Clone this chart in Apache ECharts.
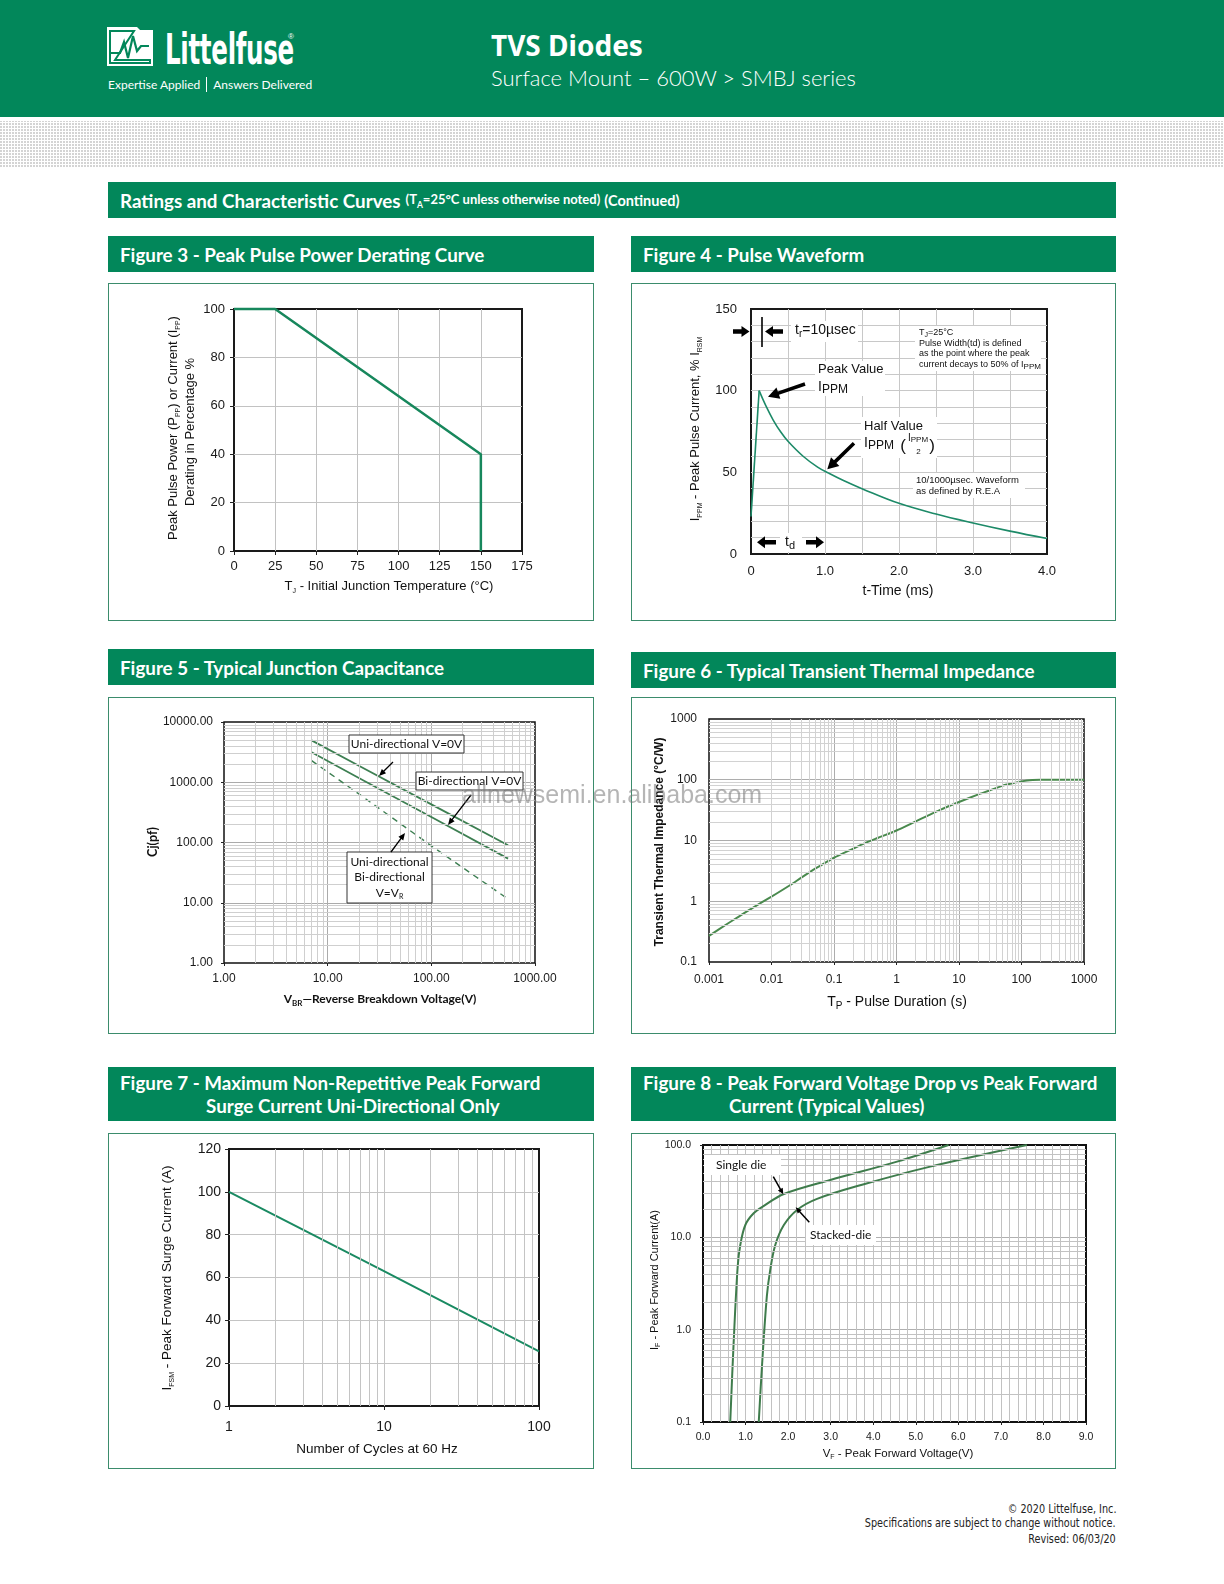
<!DOCTYPE html>
<html lang="en">
<head>
<meta charset="utf-8">
<title>TVS Diodes - SMBJ series - Ratings and Characteristic Curves</title>
<script src="https://cdn.jsdelivr.net/npm/echarts@6.0.0/dist/echarts.min.js"></script>
<style>
  html, body { margin: 0; padding: 0; background: #fff; }
  #page { position: relative; width: 1224px; height: 1584px; overflow: hidden; background: #fff;
          font-family: Lato, "Noto Sans", sans-serif; }
  .abs { position: absolute; white-space: nowrap; }
  #header { left: 0; top: 0; width: 1224px; height: 117px; background: #02875a; }
  #dots { left: 0; top: 121px; width: 1224px; height: 47px;
          background-image: repeating-linear-gradient(0deg, #fff 0 1px, transparent 1px 3px),
                            repeating-linear-gradient(90deg, #d4d4d4 0 2px, #fff 2px 3px); }
  .word { left: 165px; top: 28px; color: #fff; font: 700 43px/43px "Liberation Sans Narrow", "DejaVu Sans Condensed", sans-serif;
          transform: scaleX(0.635); transform-origin: 0 0; letter-spacing: -0.5px; }
  .reg { left: 288px; top: 33px; color: #fff; font: 8px/8px "Liberation Sans", sans-serif; }
  .tag { left: 108px; top: 77px; color: #fff; font: 400 12px/16px Lato, sans-serif; }
  .tag span { display: inline-block; width: 1px; height: 15px; background: #fff; margin: 0 6px; vertical-align: -3px; }
  .h1 { left: 491px; top: 31px; color: #fff; font: 700 28px/28px "Noto Sans", sans-serif; }
  .h2 { left: 491px; top: 66px; color: #fff; font: 300 22px/23px Lato, sans-serif; }
  .bar { position: absolute; background: #02875a; color: #fff; font-weight: 700; font-size: 18.8px;
         box-sizing: border-box; padding-left: 12px; display: flex; align-items: center; white-space: nowrap; }
  .bar small { font-size: 13px; margin-left: 5px; }
  .bar small sub { font-size: 8.5px; }
  .bar .cont { font-size: 14.5px; margin-left: 4px; }
  .bar2 { position: absolute; background: #02875a; color: #fff; font-weight: 700; font-size: 18.8px; }
  .bar2 div { position: absolute; line-height: 20px; white-space: nowrap; }
  .panel { position: absolute; box-sizing: border-box; border: 1px solid #3b8c6c; }
  .chart { position: absolute; }
  .wm { left: 462px; top: 779px; font: 25px/30px "Liberation Sans", Arial, sans-serif; color: rgba(120,120,120,0.55); z-index: 5; }
  .foot { right: 108px; color: #222; font: 12.5px/15px "Liberation Sans Narrow", "DejaVu Sans Condensed", sans-serif; text-align: right;
          transform: scaleX(0.86); transform-origin: 100% 0; }
</style>
</head>
<body>
<div id="page">
  <div id="header" class="abs"></div>
  <svg class="abs" style="left:107px;top:27px" width="46" height="39" viewBox="0 0 46 39">
    <rect x="0" y="0" width="46" height="39" fill="#fff"/>
    <path d="M30 0 L46 0 L46 3 L33 3 Z" fill="#02875a"/>
    <path d="M3 36 L3 4 L27 4 L8 33 L43 33 L43 36 Z" fill="none" stroke="#02875a" stroke-width="2"/>
    <polyline points="4,26 13,26 17,15 21,31 26,9 30,24 34,19 42,19" fill="none" stroke="#02875a" stroke-width="2.2"/>
  </svg>
  <div class="abs word">Littelfuse</div>
  <div class="abs reg">®</div>
  <div class="abs tag">Expertise Applied<span></span>Answers Delivered</div>
  <div class="abs h1">TVS Diodes</div>
  <div class="abs h2">Surface Mount – 600W &gt; SMBJ series</div>
  <div id="dots" class="abs"></div>

  <div class="bar" style="left:108px;top:182px;width:1008px;height:36px;">Ratings and Characteristic Curves<small>(T<sub>A</sub>=25°C unless otherwise noted)</small><span class="cont">(Continued)</span></div>

  <div class="bar" style="left:108px;top:236px;width:486px;height:36px;">Figure 3 - Peak Pulse Power Derating Curve</div>
  <div class="bar" style="left:631px;top:236px;width:485px;height:36px;">Figure 4 - Pulse Waveform</div>
  <div class="bar" style="left:108px;top:649px;width:486px;height:36px;">Figure 5 - Typical Junction Capacitance</div>
  <div class="bar" style="left:631px;top:652px;width:485px;height:36px;">Figure 6 - Typical Transient Thermal Impedance</div>
  <div class="bar2" style="left:108px;top:1067px;width:486px;height:54px;">
    <div style="left:12px;top:6px;">Figure 7 - Maximum Non-Repetitive Peak Forward</div>
    <div style="left:98px;top:29px;">Surge Current Uni-Directional Only</div>
  </div>
  <div class="bar2" style="left:631px;top:1067px;width:485px;height:54px;">
    <div style="left:12px;top:6px;">Figure 8 - Peak Forward Voltage Drop vs Peak Forward</div>
    <div style="left:98px;top:29px;">Current (Typical Values)</div>
  </div>

  <div class="panel" style="left:108px;top:283px;width:486px;height:338px;"></div>
  <div class="panel" style="left:631px;top:283px;width:485px;height:338px;"></div>
  <div class="panel" style="left:108px;top:697px;width:486px;height:337px;"></div>
  <div class="panel" style="left:631px;top:697px;width:485px;height:337px;"></div>
  <div class="panel" style="left:108px;top:1133px;width:486px;height:336px;"></div>
  <div class="panel" style="left:631px;top:1133px;width:485px;height:336px;"></div>

  <div id="fig3" class="chart" style="left:108px;top:283px;width:486px;height:338px;"></div>
  <div id="fig4" class="chart" style="left:631px;top:283px;width:485px;height:338px;"></div>
  <div id="fig5" class="chart" style="left:108px;top:697px;width:486px;height:337px;"></div>
  <div id="fig6" class="chart" style="left:631px;top:697px;width:485px;height:337px;"></div>
  <div id="fig7" class="chart" style="left:108px;top:1133px;width:486px;height:336px;"></div>
  <div id="fig8" class="chart" style="left:631px;top:1133px;width:485px;height:336px;"></div>

  <div class="abs wm">allnewsemi.en.alibaba.com</div>

  <div class="abs foot" style="top:1501px;">© 2020 Littelfuse, Inc.</div>
  <div class="abs foot" style="top:1515px;">Specifications are subject to change without notice.</div>
  <div class="abs foot" style="top:1531px;">Revised: 06/03/20</div>
</div>

<script>
// ---- data ----
// Figure 3: derating vs junction temperature
const derateTempC = [0, 25, 150, 150];
const deratePct = [100, 100, 40, 0];

// Figure 4: 10/1000us pulse waveform
const pulseRiseMs = [0, 0.11];
const pulseRisePct = [23, 100];
const pulseDecayMs = [0.11, 0.2, 0.3, 0.4, 0.5, 0.7, 0.9, 1.05, 1.25, 1.5, 2.0, 2.5, 3.0, 3.5, 4.0];
const pulseDecayPct = [100, 90.8, 82, 74.8, 69, 60, 53.2, 49.5, 45, 40, 31, 24.5, 19, 14, 9.5];

// Figure 5: junction capacitance vs breakdown voltage
const capVbr = [7, 20, 100, 550];
const capUni0V = [4950, 1880, 430, 90];
const capBi0V = [3150, 1180, 265, 54];
const capAtVr = [2280, 640, 88, 11.5];

// Figure 6: transient thermal impedance
const thermTp = [0.001, 0.002, 0.003, 0.005, 0.01, 0.02, 0.03, 0.05, 0.07, 0.1, 0.2, 0.3, 0.5, 1, 2, 3, 5, 10, 20, 30, 50, 70, 100, 150, 200, 1000];
const thermZth = [0.27, 0.43, 0.56, 0.78, 1.19, 1.85, 2.45, 3.45, 4.2, 5.2, 7.3, 8.9, 11, 14.6, 20.5, 25, 32, 43, 57, 66, 80, 87, 94, 99, 100, 100];

// Figure 7: surge current vs cycles
const surgeCycles = [1, 10, 100];
const surgeAmps = [100, 63, 25.5];

// Figure 8: forward voltage vs forward current
const vfSingleV = [0.64, 0.72, 0.815, 0.877, 0.995, 1.19, 1.43, 1.9, 2.99, 4.56, 5.77];
const vfSingleA = [0.1, 0.72, 4.83, 8.3, 13.6, 18.2, 21.9, 29.5, 41.8, 66, 100];
const vfStackV = [1.31, 1.39, 1.5, 1.58, 1.7, 1.9, 2.21, 2.68, 3.78, 5.34, 7.61];
const vfStackA = [0.1, 0.43, 2.29, 4.45, 8.3, 13.6, 19.8, 26.1, 37.6, 58.3, 100];

// minor grid multipliers for the log axes
const logSteps = [2, 3, 4, 5, 6, 7, 8, 9];

// ---- helpers ----
const ARIAL = '"Liberation Sans", Arial, Helvetica, sans-serif';
const CAL = 'Lato, "Open Sans", sans-serif';

function pairs(xs, ys) { return xs.map((x, i) => [x, ys[i]]); }
function minors(decades) {
  const out = [];
  decades.forEach(d => logSteps.forEach(m => out.push(+(d * m).toPrecision(6))));
  return out;
}
function sub(size, fam, weight) {
  return { fontSize: size, fontFamily: fam || ARIAL, fontWeight: weight || 'normal', fill: '#111', verticalAlign: 'bottom', lineHeight: size };
}
// minor grid lines go through the axes via markLine
function minorSeries(xVals, yVals, color) {
  return {
    type: 'line', data: [], z: 1, silent: true, animation: false,
    markLine: {
      silent: true, animation: false, symbol: ['none', 'none'], label: { show: false },
      lineStyle: { color: color, width: 1, type: 'solid' }, emphasis: { disabled: true },
      data: xVals.map(v => ({ xAxis: v })).concat(yVals.map(v => ({ yAxis: v })))
    }
  };
}
// page-coordinate annotation kit for one panel
function kit(ox, oy) {
  return {
    text(x, y, text, st, rot) {
      return {
        type: 'text', x: x - ox, y: y - oy, z: 20, silent: true, rotation: rot || 0,
        style: Object.assign({ text: text, fill: '#111', fontFamily: ARIAL, fontSize: 13,
          align: 'center', verticalAlign: 'middle', textAlign: 'center', textVerticalAlign: 'middle' }, st)
      };
    },
    box(x1, y1, x2, y2, stroke) {
      const style = { fill: '#fff' };
      if (stroke) { style.stroke = stroke; style.lineWidth = 1; }
      return { type: 'rect', z: 15, silent: true, shape: { x: x1 - ox, y: y1 - oy, width: x2 - x1, height: y2 - y1 }, style: style };
    },
    arrow(x1, y1, x2, y2, hl, hw, sw) {
      const dx = x2 - x1, dy = y2 - y1, L = Math.hypot(dx, dy);
      const ux = dx / L, uy = dy / L, px = -uy, py = ux;
      const bx = x2 - ux * hl, by = y2 - uy * hl;
      const pts = [
        [x1 + px * sw / 2, y1 + py * sw / 2], [bx + px * sw / 2, by + py * sw / 2], [bx + px * hw / 2, by + py * hw / 2],
        [x2, y2],
        [bx - px * hw / 2, by - py * hw / 2], [bx - px * sw / 2, by - py * sw / 2], [x1 - px * sw / 2, y1 - py * sw / 2]
      ].map(p => [p[0] - ox, p[1] - oy]);
      return { type: 'polygon', z: 20, silent: true, shape: { points: pts }, style: { fill: '#000' } };
    },
    line(x1, y1, x2, y2, w) {
      return { type: 'line', z: 20, silent: true, shape: { x1: x1 - ox, y1: y1 - oy, x2: x2 - ox, y2: y2 - oy }, style: { stroke: '#000', lineWidth: w } };
    }
  };
}
function mk(id, opt) {
  const c = echarts.init(document.getElementById(id));
  c.setOption(opt);
  return c;
}
const UP = Math.PI / 2;

// ---- Figure 3 ----
(function () {
  const k = kit(108, 283);
  const grid = '#c2c2c2';
  mk('fig3', {
    animation: false,
    grid: { left: 126, top: 26, width: 288, height: 242, show: true, borderColor: '#1a1a1a', borderWidth: 2, outerBoundsMode: 'none' },
    xAxis: {
      type: 'value', min: 0, max: 175, interval: 25,
      axisLine: { show: false },
      axisTick: { show: true, length: 4, lineStyle: { color: '#222' } },
      axisLabel: { color: '#1a1a1a', fontFamily: ARIAL, fontSize: 13, margin: 9 },
      splitLine: { show: true, showMinLine: false, showMaxLine: false, lineStyle: { color: grid } }
    },
    yAxis: {
      type: 'value', min: 0, max: 100, interval: 20,
      axisLine: { show: false },
      axisTick: { show: true, length: 4, lineStyle: { color: '#222' } },
      axisLabel: { color: '#1a1a1a', fontFamily: ARIAL, fontSize: 13, margin: 9 },
      splitLine: { show: true, showMinLine: false, showMaxLine: false, lineStyle: { color: grid } }
    },
    series: [{
      type: 'line', data: pairs(derateTempC, deratePct), symbol: 'none', clip: false, z: 3,
      lineStyle: { color: '#17875c', width: 2.5 }
    }],
    graphic: [
      k.text(173, 428, 'Peak Pulse Power (P{s|PP}) or Current (I{s|PP})', { fontSize: 13, lineHeight: 17, rich: { s: sub(7) } }, UP),
      k.text(190, 432, 'Derating in Percentage %', { fontSize: 13 }, UP),
      k.text(389, 586, 'T{s|J} - Initial Junction Temperature (°C)', { fontSize: 13, lineHeight: 17, rich: { s: sub(7) } })
    ]
  });
})();

// ---- Figure 4 ----
(function () {
  const k = kit(631, 283);
  const grid = '#c8c8c8';
  mk('fig4', {
    animation: false,
    grid: { left: 120, top: 26, width: 296, height: 245, show: true, borderColor: '#1a1a1a', borderWidth: 2, outerBoundsMode: 'none' },
    xAxis: {
      type: 'value', min: 0, max: 4, interval: 0.5,
      axisLine: { show: false }, axisTick: { show: false },
      axisLabel: { color: '#1a1a1a', fontFamily: ARIAL, fontSize: 13, margin: 11,
        formatter: v => v === 0 ? '0' : (Number.isInteger(v) ? v.toFixed(1) : '') },
      splitLine: { show: true, showMinLine: false, showMaxLine: false, lineStyle: { color: grid } }
    },
    yAxis: {
      type: 'value', min: 0, max: 150, interval: 10,
      axisLine: { show: false }, axisTick: { show: false },
      axisLabel: { color: '#1a1a1a', fontFamily: ARIAL, fontSize: 13, margin: 14,
        formatter: v => v % 50 === 0 ? String(v) : '' },
      splitLine: { show: true, showMinLine: false, showMaxLine: false, lineStyle: { color: grid } }
    },
    series: [
      { type: 'line', data: pairs(pulseRiseMs, pulseRisePct), symbol: 'none', z: 3, lineStyle: { color: '#1d8a68', width: 1.6 } },
      { type: 'line', data: pairs(pulseDecayMs, pulseDecayPct), symbol: 'none', smooth: 0.4, z: 3, lineStyle: { color: '#1d8a68', width: 1.6 } }
    ],
    graphic: [
      k.text(695, 429, 'I{s|PPM} - Peak Pulse Current, % I{s|RSM}', { fontSize: 13, lineHeight: 17, rich: { s: sub(7) } }, UP),
      k.text(898, 591, 't-Time (ms)', { fontSize: 14 }),
      // rise time marker
      k.box(791, 321, 858, 342),
      k.arrow(733, 331.5, 749.5, 331.5, 8, 11, 4.5),
      k.line(762, 317, 762, 347, 1.6),
      k.arrow(783, 331.5, 765, 331.5, 8, 11, 4.5),
      k.text(795, 330, 't{s|r}=10µsec', { fontSize: 14, align: 'left', textAlign: 'left', lineHeight: 18, rich: { s: sub(10) } }),
      // peak value
      k.box(815, 361, 885, 396),
      k.text(818, 369.5, 'Peak Value', { fontSize: 13, align: 'left', textAlign: 'left' }),
      k.text(818, 387, 'I{s|PPM}', { fontSize: 14, align: 'left', textAlign: 'left', lineHeight: 18, rich: { s: sub(12) } }),
      k.arrow(805, 384, 768, 396.7, 11, 12, 3.5),
      // half value
      k.box(861, 417, 937, 458),
      k.text(864, 426, 'Half Value', { fontSize: 13, align: 'left', textAlign: 'left' }),
      k.text(864, 443, 'I{s|PPM}', { fontSize: 14, align: 'left', textAlign: 'left', lineHeight: 18, rich: { s: sub(12) } }),
      k.text(903, 446, '(', { fontSize: 17 }),
      k.text(918, 438, 'I{s|PPM}', { fontSize: 10, lineHeight: 12, rich: { s: sub(8) } }),
      k.text(918.5, 452, '2', { fontSize: 8 }),
      k.text(932, 446, ')', { fontSize: 17 }),
      k.arrow(854, 443.3, 827.3, 469.3, 11, 12, 3.5),
      // notes
      k.box(915, 326, 1041, 371),
      k.text(919, 333, 'T{s|J}=25°C', { fontSize: 9, align: 'left', textAlign: 'left', lineHeight: 11, rich: { s: sub(7) } }),
      k.text(919, 343.5, 'Pulse Width(td) is defined', { fontSize: 9, align: 'left', textAlign: 'left' }),
      k.text(919, 354, 'as the point where the peak', { fontSize: 9, align: 'left', textAlign: 'left' }),
      k.text(919, 365, 'current decays to 50% of I{s|PPM}', { fontSize: 9, align: 'left', textAlign: 'left', lineHeight: 11, rich: { s: sub(8) } }),
      k.box(913, 473, 1025, 498),
      k.text(916, 480, '10/1000µsec. Waveform', { fontSize: 9.5, align: 'left', textAlign: 'left' }),
      k.text(916, 491, 'as defined by R.E.A', { fontSize: 9.5, align: 'left', textAlign: 'left' }),
      // pulse width marker
      k.box(780, 533, 802, 552),
      k.arrow(776, 542.3, 757, 542.3, 8, 12, 4.5),
      k.text(785, 542, 't{s|d}', { fontSize: 14, align: 'left', textAlign: 'left', lineHeight: 18, rich: { s: sub(11) } }),
      k.arrow(806, 542.3, 824, 542.3, 8, 12, 4.5)
    ]
  });
})();

// ---- Figure 5 ----
(function () {
  const k = kit(108, 697);
  const major = '#ababab', minor = '#cfcfcf';
  const green = '#3d7f52';
  mk('fig5', {
    animation: false,
    grid: { left: 116, top: 25, width: 311, height: 241, show: true, borderColor: '#111', borderWidth: 1.5, outerBoundsMode: 'none' },
    xAxis: {
      type: 'log', logBase: 10, min: 1, max: 1000,
      axisLine: { show: false },
      axisTick: { show: true, length: 3, lineStyle: { color: '#222' } },
      axisLabel: { color: '#1a1a1a', fontFamily: ARIAL, fontSize: 12, margin: 10, formatter: v => v.toFixed(2) },
      splitLine: { show: true, showMinLine: false, showMaxLine: false, lineStyle: { color: major } }
    },
    yAxis: {
      type: 'log', logBase: 10, min: 1, max: 10000,
      axisLine: { show: false },
      axisTick: { show: true, length: 3, lineStyle: { color: '#222' } },
      axisLabel: { color: '#1a1a1a', fontFamily: ARIAL, fontSize: 12, margin: 11, formatter: v => v.toFixed(2) },
      splitLine: { show: true, showMinLine: false, showMaxLine: false, lineStyle: { color: major } }
    },
    series: [
      minorSeries(minors([1, 10, 100]), minors([1, 10, 100, 1000]), minor),
      { type: 'line', name: 'Uni-directional V=0V', data: pairs(capVbr, capUni0V), symbol: 'none', z: 3, lineStyle: { color: green, width: 1.8 } },
      { type: 'line', name: 'Bi-directional V=0V', data: pairs(capVbr, capBi0V), symbol: 'none', z: 3, lineStyle: { color: green, width: 1.8 } },
      { type: 'line', name: 'V=VR', data: pairs(capVbr, capAtVr), symbol: 'none', z: 3, lineStyle: { color: green, width: 1.4, type: [6, 5] } }
    ],
    graphic: [
      k.text(153, 842, 'Cj(pf)', { fontSize: 12.5, fontWeight: 'bold', fontFamily: CAL }, UP),
      k.text(380, 999, 'V{s|BR}—Reverse Breakdown Voltage(V)', { fontSize: 12, fontWeight: 'bold', fontFamily: CAL, lineHeight: 16, rich: { s: sub(8, CAL, 'bold') } }),
      k.box(349, 735, 464, 753, '#333'),
      k.text(406.5, 744.5, 'Uni-directional V=0V', { fontSize: 12, fontFamily: CAL }),
      k.arrow(393, 762, 379, 776, 7, 6, 1.3),
      k.box(416, 772, 523, 790, '#333'),
      k.text(469.5, 781.5, 'Bi-directional V=0V', { fontSize: 12, fontFamily: CAL }),
      k.arrow(471, 795, 448, 825, 7, 6, 1.3),
      k.box(347, 852, 432, 903, '#333'),
      k.text(389.5, 862, 'Uni-directional', { fontSize: 12, fontFamily: CAL }),
      k.text(389.5, 877.5, 'Bi-directional', { fontSize: 12, fontFamily: CAL }),
      k.text(389.5, 893, 'V=V{s|R}', { fontSize: 12, fontFamily: CAL, lineHeight: 15, rich: { s: sub(7, CAL) } }),
      k.arrow(391, 852, 405, 833, 7, 6, 1.3)
    ]
  });
})();

// ---- Figure 6 ----
(function () {
  const k = kit(631, 697);
  const major = '#adadad', minor = '#d2d2d2';
  const fmt = v => String(Number(v.toPrecision(6)));
  mk('fig6', {
    animation: false,
    grid: { left: 78, top: 22, width: 375, height: 243, show: true, borderColor: '#111', borderWidth: 1.5, outerBoundsMode: 'none' },
    xAxis: {
      type: 'log', logBase: 10, min: 0.001, max: 1000,
      axisLine: { show: false },
      axisTick: { show: true, length: 3, lineStyle: { color: '#222' } },
      axisLabel: { color: '#1a1a1a', fontFamily: ARIAL, fontSize: 12, margin: 12, formatter: fmt },
      splitLine: { show: true, showMinLine: false, showMaxLine: false, lineStyle: { color: major } }
    },
    yAxis: {
      type: 'log', logBase: 10, min: 0.1, max: 1000,
      axisLine: { show: false },
      axisTick: { show: false },
      axisLabel: { color: '#1a1a1a', fontFamily: ARIAL, fontSize: 12, margin: 12, formatter: fmt },
      splitLine: { show: true, showMinLine: false, showMaxLine: false, lineStyle: { color: major } }
    },
    series: [
      minorSeries(minors([0.001, 0.01, 0.1, 1, 10, 100]), minors([0.1, 1, 10, 100]), minor),
      { type: 'line', data: pairs(thermTp, thermZth), symbol: 'none', smooth: 0.2, z: 3, lineStyle: { color: '#4a8a4e', width: 2 } }
    ],
    graphic: [
      k.text(660, 842, 'Transient Thermal Impedance (°C/W)', { fontSize: 12, fontWeight: 'bold' }, UP),
      k.text(897, 1002, 'T{s|P} - Pulse Duration (s)', { fontSize: 14, lineHeight: 18, rich: { s: sub(10) } })
    ]
  });
})();

// ---- Figure 7 ----
(function () {
  const k = kit(108, 1133);
  const grid = '#c4c4c4';
  mk('fig7', {
    animation: false,
    grid: { left: 121, top: 16, width: 310, height: 257, show: true, borderColor: '#1a1a1a', borderWidth: 2, outerBoundsMode: 'none' },
    xAxis: {
      type: 'log', logBase: 10, min: 1, max: 100,
      axisLine: { show: false },
      axisTick: { show: true, length: 4, lineStyle: { color: '#222' } },
      axisLabel: { color: '#1a1a1a', fontFamily: ARIAL, fontSize: 14, margin: 14, formatter: v => String(Math.round(v)) },
      splitLine: { show: true, showMinLine: false, showMaxLine: false, lineStyle: { color: grid } }
    },
    yAxis: {
      type: 'value', min: 0, max: 120, interval: 20,
      axisLine: { show: false },
      axisTick: { show: true, length: 4, lineStyle: { color: '#222' } },
      axisLabel: { color: '#1a1a1a', fontFamily: ARIAL, fontSize: 14, margin: 8 },
      splitLine: { show: true, showMinLine: false, showMaxLine: false, lineStyle: { color: grid } }
    },
    series: [
      minorSeries(minors([1, 10]), [], grid),
      { type: 'line', data: pairs(surgeCycles, surgeAmps), symbol: 'none', z: 3, lineStyle: { color: '#1a8a62', width: 2 } }
    ],
    graphic: [
      k.text(167, 1278, 'I{s|FSM} - Peak Forward Surge Current (A)', { fontSize: 13.5, lineHeight: 17, rich: { s: sub(7) } }, UP),
      k.text(377, 1449, 'Number of Cycles at 60 Hz', { fontSize: 13.5 })
    ]
  });
})();

// ---- Figure 8 ----
(function () {
  const k = kit(631, 1133);
  const grid = '#c2c2c2';
  const green = '#3f7c4c';
  mk('fig8', {
    animation: false,
    grid: { left: 72, top: 12, width: 383, height: 277, show: true, borderColor: '#111', borderWidth: 2, outerBoundsMode: 'none' },
    xAxis: {
      type: 'value', min: 0, max: 9, interval: 1,
      axisLine: { show: false },
      axisTick: { show: true, length: 3, lineStyle: { color: '#222' } },
      minorTick: { show: false, splitNumber: 5 },
      minorSplitLine: { show: true, lineStyle: { color: grid } },
      axisLabel: { color: '#1a1a1a', fontFamily: ARIAL, fontSize: 10.5, margin: 10, formatter: v => v.toFixed(1) },
      splitLine: { show: true, showMinLine: false, showMaxLine: false, lineStyle: { color: grid } }
    },
    yAxis: {
      type: 'log', logBase: 10, min: 0.1, max: 100,
      axisLine: { show: false },
      axisTick: { show: true, length: 3, lineStyle: { color: '#222' } },
      axisLabel: { color: '#1a1a1a', fontFamily: ARIAL, fontSize: 10.5, margin: 12, formatter: v => v.toFixed(1) },
      splitLine: { show: true, showMinLine: false, showMaxLine: false, lineStyle: { color: '#b0b0b0' } }
    },
    series: [
      minorSeries([], minors([0.1, 1, 10]), grid),
      { type: 'line', name: 'Single die', data: pairs(vfSingleV, vfSingleA), symbol: 'none', smooth: 0.35, z: 3, lineStyle: { color: green, width: 2 } },
      { type: 'line', name: 'Stacked-die', data: pairs(vfStackV, vfStackA), symbol: 'none', smooth: 0.35, z: 3, lineStyle: { color: green, width: 2 } }
    ],
    graphic: [
      k.text(655, 1280, 'I{s|F} - Peak Forward Current(A)', { fontSize: 11, lineHeight: 14, rich: { s: sub(7) } }, UP),
      k.text(898, 1454, 'V{s|F} - Peak Forward Voltage(V)', { fontSize: 11.5, lineHeight: 14, rich: { s: sub(7) } }),
      k.box(704, 1155, 781, 1175),
      k.text(716, 1165, 'Single die', { fontSize: 12, fontFamily: CAL, align: 'left', textAlign: 'left' }),
      k.arrow(773.3, 1176.7, 783.3, 1194.3, 6, 5.5, 1.5),
      k.box(806, 1225, 876, 1245),
      k.text(810, 1235, 'Stacked-die', { fontSize: 12, fontFamily: CAL, align: 'left', textAlign: 'left' }),
      k.arrow(809.3, 1222.3, 795.7, 1207.3, 6, 5.5, 1.5)
    ]
  });
})();
</script>
</body>
</html>
